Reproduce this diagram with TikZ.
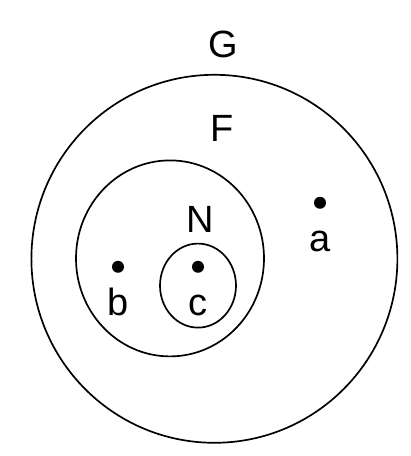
\documentclass[tikz,border=0pt]{standalone}
\usepackage{fontspec}
\setmainfont{Liberation Sans}
\usetikzlibrary{shapes.geometric, positioning}
\tikzset{
    setshape/.style={ellipse, draw, line width=1.2pt, inner sep=0pt},
    elem/.style={circle, fill=black, minimum size=3mm, inner sep=0pt},
    lbl/.style={font=\fontsize{27}{30}\selectfont, anchor=base, inner sep=0pt},
}

\begin{document}
\begin{tikzpicture}
    \useasboundingbox (0,0) rectangle (10.275,11.4);

    % ── Sets ───────────────────────────────────────────────────────
    \node[setshape, minimum width=9.15cm, minimum height=9.2cm] (setG) at (5.36, 4.93) {};
    \node[setshape, minimum width=4.7cm, minimum height=4.9cm] (setF) at (4.25, 4.94) {};
    \node[setshape, minimum width=1.9cm, minimum height=2.1cm] (setN) at (4.95, 4.26) {};

    % ── Set names ──────────────────────────────────────────────────
    \node[lbl] (lblG) at (5.57, 9.95) {G};
    \node[lbl] (lblF) at (5.55, 7.85) {F};
    \node[lbl] (lblN) at (5.0, 5.575) {N};

    % ── Elements ───────────────────────────────────────────────────
    \node[elem] (a) at (8.0, 6.33) {};
    \node[elem] (b) at (2.95, 4.73) {};
    \node[elem] (c) at (4.95, 4.73) {};

    \node[lbl] (lbla) at (8.0, 5.1) {a};
    \node[lbl] (lblb) at (2.95, 3.5) {b};
    \node[lbl] (lblc) at (4.95, 3.5) {c};

\end{tikzpicture}
\end{document}
